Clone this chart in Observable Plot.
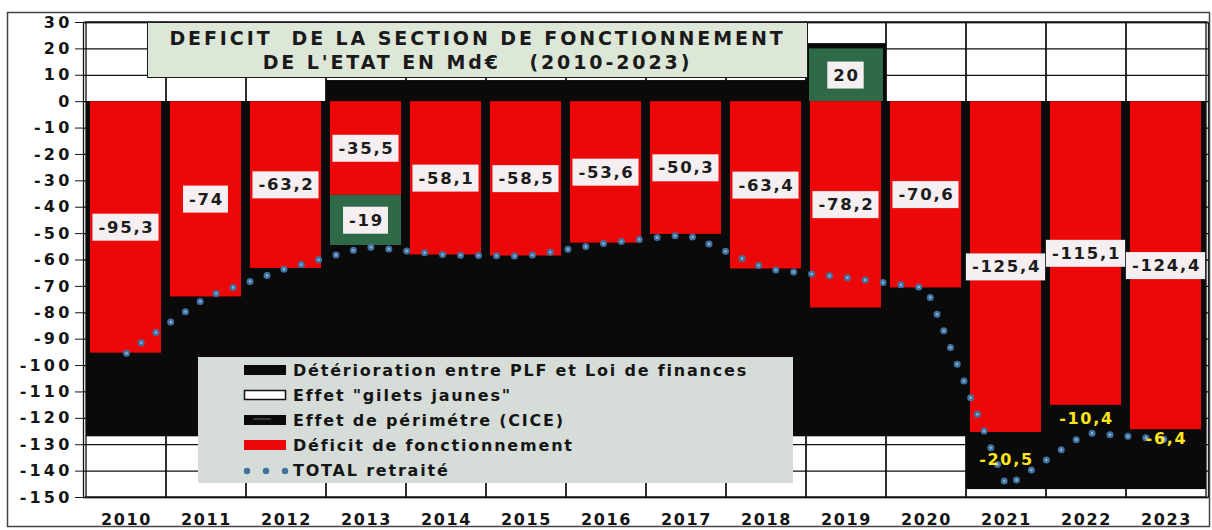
<!DOCTYPE html>
<html>
<head>
<meta charset="utf-8">
<script src="https://cdn.jsdelivr.net/npm/d3@7"></script>
<script src="https://cdn.jsdelivr.net/npm/@observablehq/plot@0.6"></script>
<style>
  html, body { margin: 0; padding: 0; background: #fff; overflow: hidden; }
  #wrap { position: relative; width: 1212px; height: 530px; }
  #title {
    position: absolute; left: 147px; top: 22px; width: 661px; height: 56px;
    background: #dde7d7; border: 1.5px solid #1a1a1a; box-sizing: border-box;
    font-family: "DejaVu Sans", sans-serif; font-weight: bold; font-size: 19px;
    color: #1a1a1a; text-align: center; line-height: 24px; padding-top: 3px;
    letter-spacing: 2.9px; white-space: pre;
  }
  #legend {
    position: absolute; left: 198px; top: 357px; width: 595px; height: 126px;
    background: #d6ddd9; box-sizing: border-box;
  }
  .lg-row { position: absolute; left: 0; height: 25px; width: 100%; }
  .lg-row svg { position: absolute; left: 45px; top: 4px; }
  .lg-row span {
    position: absolute; left: 95px; top: 0; line-height: 25px;
    font-family: "DejaVu Sans", sans-serif; font-weight: bold; font-size: 16px;
    color: #151515; letter-spacing: 1.8px; white-space: pre;
  }
  g[aria-label="text"] text { letter-spacing: 1.7px; }
  g[aria-label="y-axis tick label"] text { letter-spacing: 3.2px; }
  g[aria-label="x-axis tick label"] text { letter-spacing: 1.6px; }
</style>
</head>
<body>
<div id="wrap"></div>
<script>
// ---- data ----
const years = [2010, 2011, 2012, 2013, 2014, 2015, 2016, 2017, 2018, 2019, 2020, 2021, 2022, 2023];
const deficit = [-95.3, -74, -63.2, -35.5, -58.1, -58.5, -53.6, -50.3, -63.4, -78.2, -70.6, -125.4, -115.1, -124.4];
const perimetre = [0, 0, 0, -19, 0, 0, 0, 0, 0, 0, 0, 0, 0, 0];
const giletsJaunes = [0, 0, 0, 0, 0, 0, 0, 0, 0, 20, 0, 0, 0, 0];
const deterioration = [0, 0, 0, 0, 0, 0, 0, 0, 0, 0, 0, -20.5, -10.4, -6.4];
const totalRetraite = [-95.3, -74, -63.2, -55, -58.1, -58.5, -53.6, -50.3, -63.4, -66.7, -70.6, -145.9, -125.5, -128];
const fondHaut = [0, 0, 0, 8, 8, 8, 8, 8, 8, 22, 0, 0, 0, 0];
const fondBas = [-127, -127, -127, -127, -127, -127, -127, -127, -127, -127, -127, -147, -147, -147];
const yTicks = [-150, -140, -130, -120, -110, -100, -90, -80, -70, -60, -50, -40, -30, -20, -10, 0, 10, 20, 30];
const titleLines = ["DEFICIT  DE LA SECTION DE FONCTIONNEMENT", "DE L'ETAT EN Md€   (2010-2023)"];
const legendLabels = [
  "Détérioration entre PLF et Loi de finances",
  "Effet \"gilets jaunes\"",
  "Effet de périmétre (CICE)",
  "Déficit de fonctionnement",
  "TOTAL retraité"
];

// ---- derived tables ----
const fr = v => String(v).replace(".", ",");
const rows = years.map((year, i) => ({
  year, deficit: deficit[i], perimetre: perimetre[i], gilets: giletsJaunes[i],
  deterioration: deterioration[i], total: totalRetraite[i],
  fondHaut: fondHaut[i], fondBas: fondBas[i]
}));
const periRows = rows.filter(d => d.perimetre !== 0);
const giletsRows = rows.filter(d => d.gilets !== 0);
const detRows = rows.filter(d => d.deterioration !== 0);

const boxLabels = [
  ...rows.map(d => ({year: d.year, y: d.deficit / 2, text: fr(d.deficit)})),
  ...periRows.map(d => ({year: d.year, y: d.deficit + d.perimetre / 2, text: fr(d.perimetre)})),
  ...giletsRows.map(d => ({year: d.year, y: d.gilets / 2, text: fr(d.gilets)}))
];
const yellowLabels = detRows.map(d => ({year: d.year, y: d.deficit + d.deterioration / 2, text: fr(d.deterioration)}));

const RED = "#ec0808", BLACK = "#0a0a0a", GREEN = "#2e6a47", DOT = "#41729f";
const LABEL_INK = "#1c1c1c";

const chart = Plot.plot({
  width: 1212,
  height: 530,
  marginLeft: 83,
  marginRight: 4,
  marginTop: 22,
  marginBottom: 33,
  style: {fontFamily: "DejaVu Sans, sans-serif", fontSize: "15px", fontWeight: "bold", color: "#151515", background: "#fff"},
  x: {type: "band", domain: years, padding: 0, label: null},
  y: {domain: [-150, 30], label: null},
  marks: [
    Plot.ruleY(yTicks, {stroke: "#111", strokeWidth: 1.3}),
    Plot.cell(years, {x: d => d, fill: "none", stroke: "#111", strokeWidth: 1.3}),
    Plot.barY(rows, {x: "year", y1: "fondBas", y2: "fondHaut", fill: BLACK}),
    Plot.barY(giletsRows, {x: "year", y1: 0, y2: "gilets", fill: GREEN, insetLeft: 3, insetRight: 3}),
    Plot.barY(rows, {x: "year", y1: 0, y2: "deficit", fill: RED, insetLeft: 4, insetRight: 5}),
    Plot.barY(periRows, {x: "year", y1: "deficit", y2: d => d.deficit + d.perimetre, fill: GREEN, insetLeft: 4, insetRight: 5}),
    Plot.barY(detRows, {x: "year", y1: "deficit", y2: d => d.deficit + d.deterioration, fill: BLACK, insetLeft: 4, insetRight: 5}),
    Plot.line(rows, {x: "year", y: "total", stroke: DOT, strokeWidth: 7, strokeDasharray: "0 18", strokeLinecap: "round"}),
    Plot.line(rows, {x: "year", y: "total", stroke: "#8db4d8", strokeWidth: 2.5, strokeDasharray: "0 18", strokeLinecap: "round"}),
    Plot.frame({stroke: "#111", strokeWidth: 1.3}),
    Plot.axisY({ticks: yTicks, tickSize: 8, tickPadding: 3, tickFormat: d => String(d), fontSize: 16, fontWeight: "bold"}),
    Plot.axisX({tickSize: 0, tickPadding: 16, tickFormat: d => String(d), fontSize: 16, fontWeight: "bold"}),
    Plot.text(boxLabels, {x: "year", y: "y", text: "text", fill: LABEL_INK, fontSize: 16.5, fontWeight: "bold"}),
    Plot.text(yellowLabels, {x: "year", y: "y", text: "text", fill: "#ffe41a", fontSize: 16, fontWeight: "bold"})
  ]
});

const wrap = document.getElementById("wrap");
wrap.appendChild(chart);
chart.style.position = "absolute";
chart.style.left = "0px";
chart.style.top = "0px";

// light boxes behind the value labels (first text mark = boxed labels)
const textGroups = chart.querySelectorAll('g[aria-label="text"]');
if (textGroups.length) {
  const g = textGroups[0];
  Array.from(g.querySelectorAll("text")).forEach(t => {
    const b = t.getBBox();
    const r = document.createElementNS("http://www.w3.org/2000/svg", "rect");
    r.setAttribute("x", b.x - 6);
    r.setAttribute("y", b.y - 4);
    r.setAttribute("width", b.width + 10);
    r.setAttribute("height", b.height + 8);
    r.setAttribute("fill", "#f5eff1");
    r.setAttribute("stroke", "none");
    const tr = t.getAttribute("transform");
    if (tr) r.setAttribute("transform", tr);
    g.insertBefore(r, t);
  });
}

// outer frame of the picture
d3.select(chart).append("rect")
  .attr("x", 7.5).attr("y", 12.5).attr("width", 1202).attr("height", 514)
  .attr("fill", "none").attr("stroke", "#444").attr("stroke-width", 1.5);

// title box
const title = document.createElement("div");
title.id = "title";
title.textContent = titleLines.join("\n");
wrap.appendChild(title);

// legend box
const legend = document.createElement("div");
legend.id = "legend";
wrap.appendChild(legend);
const swatches = [
  `<svg width="44" height="16"><rect x="1" y="3" width="42" height="10" fill="${BLACK}"/></svg>`,
  `<svg width="44" height="16"><rect x="1.5" y="3.5" width="41" height="9" fill="#fff" stroke="#111" stroke-width="1.5"/></svg>`,
  `<svg width="44" height="16"><rect x="1" y="3" width="42" height="10" fill="${BLACK}"/><line x1="10" x2="28" y1="7" y2="7" stroke="#666" stroke-width="1"/></svg>`,
  `<svg width="44" height="16"><rect x="1" y="3" width="42" height="10" fill="${RED}"/></svg>`,
  `<svg width="48" height="16"><circle cx="4" cy="9" r="3.2" fill="${DOT}"/><circle cx="23" cy="9" r="3.2" fill="${DOT}"/><circle cx="42" cy="9" r="3.2" fill="${DOT}"/></svg>`
];
legendLabels.forEach((label, i) => {
  const row = document.createElement("div");
  row.className = "lg-row";
  row.style.top = (1 + i * 25) + "px";
  row.innerHTML = swatches[i];
  const span = document.createElement("span");
  span.textContent = label;
  row.appendChild(span);
  legend.appendChild(row);
});
</script>
</body>
</html>
